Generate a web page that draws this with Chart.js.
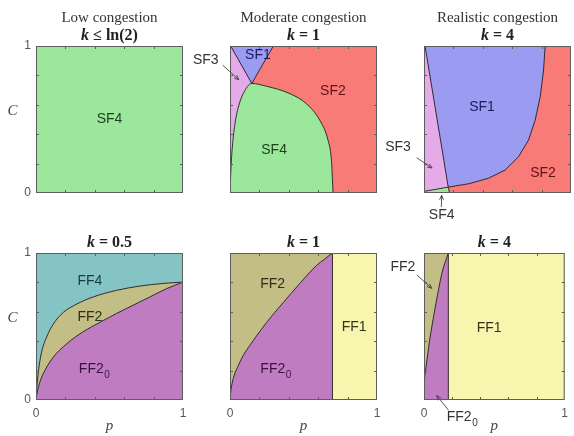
<!DOCTYPE html>
<html>
<head>
<meta charset="utf-8">
<script src="https://cdn.jsdelivr.net/npm/chart.js@4.4.1/dist/chart.umd.min.js"></script>
<style>
  html, body { margin: 0; padding: 0; background: #fff; }
  body { width: 574px; height: 436px; position: relative; overflow: hidden; }
  canvas { position: absolute; left: 0; top: 0; }
</style>
</head>
<body>
<canvas id="c1" width="574" height="436"></canvas>
<canvas id="c2" width="574" height="436"></canvas>
<canvas id="c3" width="574" height="436"></canvas>
<canvas id="c4" width="574" height="436"></canvas>
<canvas id="c5" width="574" height="436"></canvas>
<canvas id="c6" width="574" height="436"></canvas>
<script>
// axis ticks
const tickValues = [0, 1];
const minorTicks = [0.2, 0.4, 0.6, 0.8];

// moderate congestion, k = 1 (SF regions)
const modSF1P = [0.005, 0.148, 0.295];
const modSF1C = [1, 0.745, 1];
const modSF3P = [0, 0.005, 0.148];
const modSF3C = [1, 1, 0.745];
const modSF4P = [0, 0.003, 0.007, 0.018, 0.034, 0.057, 0.09, 0.148, 0.249, 0.407, 0.52, 0.611, 0.667, 0.69, 0.697, 0.701];
const modSF4C = [0, 0.08, 0.177, 0.336, 0.472, 0.585, 0.676, 0.745, 0.726, 0.676, 0.607, 0.494, 0.358, 0.222, 0.086, 0];

// realistic congestion, k = 4 (SF regions)
const realSF3P = [0, 0.007, 0.165];
const realSF3C = [1, 1, 0.04];
const realSF1P = [0.007, 0.165, 0.305, 0.44, 0.553, 0.643, 0.711, 0.756, 0.79, 0.813, 0.824];
const realSF1C = [1, 0.04, 0.063, 0.101, 0.157, 0.247, 0.36, 0.494, 0.652, 0.831, 1];
const realSF4P = [0, 0.165, 0.174];
const realSF4C = [0.011, 0.04, 0];

// k = 0.5 (FF regions)
const lowFF2P = [0, 0.005, 0.016, 0.038, 0.072, 0.118, 0.186, 0.276, 0.389, 0.548, 0.706, 0.864, 1];
const lowFF2C = [0, 0.079, 0.191, 0.326, 0.427, 0.517, 0.596, 0.652, 0.701, 0.746, 0.775, 0.793, 0.802];
const lowFF20P = [0, 0.009, 0.027, 0.061, 0.118, 0.208, 0.321, 0.434, 0.548, 0.661, 0.774, 0.887, 1];
const lowFF20C = [0, 0.056, 0.124, 0.202, 0.292, 0.382, 0.465, 0.528, 0.589, 0.645, 0.701, 0.757, 0.802];

// k = 1 (FF regions)
const modFF20P = [0, 0.005, 0.014, 0.029, 0.057, 0.09, 0.158, 0.249, 0.362, 0.475, 0.588, 0.645, 0.697];
const modFF20C = [0, 0.056, 0.112, 0.169, 0.236, 0.303, 0.404, 0.528, 0.663, 0.793, 0.915, 0.96, 1];
const modFF1P = [0.697, 0.697, 1];
const modFF1C = [0, 1, 1];

// k = 4 (FF regions)
const realFF20P = [0, 0.005, 0.016, 0.038, 0.065, 0.095, 0.128, 0.173];
const realFF20C = [0.09, 0.16, 0.236, 0.393, 0.551, 0.708, 0.865, 1];
const realFF1P = [0.173, 0.173, 1];
const realFF1C = [0, 1, 1];

const GREEN = '#9be79b', RED = '#f97b78', BLUE = '#9b9bf1', PINK = '#e5aae8';
const TEAL = '#85c4c4', OLIVE = '#c2be85', PURPLE = '#c07cc0', YELLOW = '#f7f5ae';
const EDGE = 'rgba(35,30,35,0.9)';
const FRAME = '#5e5e5e';

const W = 574, H = 436, SIZE = 147;

const pts = (ps, cs) => ps.map((p, i) => ({ x: p, y: cs[i] }));

function region(ps, cs, color, fill, order, extra) {
  return Object.assign({
    data: pts(ps, cs),
    backgroundColor: color,
    borderColor: EDGE,
    borderWidth: 1,
    fill: fill,
    order: order,
    pointRadius: 0,
    tension: 0,
  }, extra);
}
const curved = { cubicInterpolationMode: 'monotone' };
const noEdge = { borderWidth: 0 };

function axis(showLabels, vertical) {
  return {
    type: 'linear',
    min: 0,
    max: 1,
    grid: { display: false, drawTicks: false, tickLength: 0 },
    border: { display: false },
    afterBuildTicks: s => { s.ticks = tickValues.map(v => ({ value: v })); },
    afterFit: s => { if (vertical) s.width = 30; else s.height = 24; },
    ticks: {
      display: showLabels,
      autoSkip: false,
      maxRotation: 0,
      color: '#555',
      padding: vertical ? 5 : 6,
      font: { family: 'Liberation Sans', size: 12 },
    },
  };
}

const serif = 'Liberation Serif';

function drawText(ctx, x, y, text, font, color, sub) {
  ctx.font = font;
  const w = ctx.measureText(text).width;
  let sw = 0;
  const subFont = font.replace(/\d+px/, '10px');
  if (sub) { ctx.font = subFont; sw = ctx.measureText(sub).width; }
  ctx.fillStyle = color;
  ctx.textBaseline = 'middle';
  ctx.textAlign = 'left';
  const x0 = x - (w + sw) / 2;
  ctx.font = font;
  ctx.fillText(text, x0, y);
  if (sub) { ctx.font = subFont; ctx.fillText(sub, x0 + w + 0.5, y + 6); }
}

function drawArrow(ctx, x1, y1, x2, y2) {
  ctx.strokeStyle = '#444';
  ctx.lineWidth = 0.9;
  ctx.beginPath();
  ctx.moveTo(x1, y1);
  ctx.lineTo(x2, y2);
  ctx.stroke();
  const a = Math.atan2(y2 - y1, x2 - x1);
  const h = 5;
  ctx.beginPath();
  ctx.moveTo(x2, y2);
  ctx.lineTo(x2 - h * Math.cos(a - 0.4), y2 - h * Math.sin(a - 0.4));
  ctx.moveTo(x2, y2);
  ctx.lineTo(x2 - h * Math.cos(a + 0.4), y2 - h * Math.sin(a + 0.4));
  ctx.stroke();
}

const panelPlugin = {
  id: 'panel',
  beforeDraw(chart) {
    const { ctx, chartArea: a } = chart;
    ctx.save();
    ctx.fillStyle = chart.config.options.plugins.panel.bg;
    ctx.fillRect(a.left, a.top, a.right - a.left, a.bottom - a.top);
    ctx.restore();
  },
  afterDraw(chart) {
    const opts = chart.config.options.plugins.panel;
    const { ctx, chartArea: a } = chart;
    const xs = chart.scales.x, ys = chart.scales.y;
    ctx.save();
    // frame with inward ticks
    ctx.strokeStyle = FRAME;
    ctx.lineWidth = 1;
    ctx.strokeRect(a.left + 0.5, a.top + 0.5, a.right - a.left - 1, a.bottom - a.top - 1);
    ctx.beginPath();
    minorTicks.forEach(v => {
      const px = Math.round(xs.getPixelForValue(v)) + 0.5;
      const py = Math.round(ys.getPixelForValue(v)) + 0.5;
      ctx.moveTo(px, a.bottom); ctx.lineTo(px, a.bottom - 3);
      ctx.moveTo(px, a.top); ctx.lineTo(px, a.top + 3);
      ctx.moveTo(a.left, py); ctx.lineTo(a.left + 3, py);
      ctx.moveTo(a.right, py); ctx.lineTo(a.right - 3, py);
    });
    ctx.stroke();

    // titles
    const cx = (a.left + a.right) / 2;
    if (opts.head) drawText(ctx, cx, a.top - 28, opts.head, '15px "' + serif + '"', '#333');
    if (opts.math) {
      const parts = opts.math.map(([t, style]) => {
        ctx.font = style + ' 16px "' + serif + '"';
        return { t, font: ctx.font, w: ctx.measureText(t).width };
      });
      let x = cx - parts.reduce((s, p) => s + p.w, 0) / 2;
      ctx.fillStyle = '#222';
      ctx.textBaseline = 'middle';
      ctx.textAlign = 'left';
      parts.forEach(p => { ctx.font = p.font; ctx.fillText(p.t, x, a.top - 10); x += p.w; });
    }

    // axis names
    if (opts.yName) drawText(ctx, xs.getPixelForValue(-0.16), ys.getPixelForValue(0.56), 'C', 'italic 15px "' + serif + '"', '#444');
    if (opts.xName) drawText(ctx, xs.getPixelForValue(0.5), ys.getPixelForValue(-0.18), 'p', 'italic 15px "' + serif + '"', '#444');

    // region labels and arrows
    (opts.labels || []).forEach(l => {
      drawText(ctx, xs.getPixelForValue(l.p), ys.getPixelForValue(l.c), l.text, '14px "Liberation Sans"', l.color, l.sub);
    });
    (opts.arrows || []).forEach(r => {
      drawArrow(ctx, xs.getPixelForValue(r[0]), ys.getPixelForValue(r[1]), xs.getPixelForValue(r[2]), ys.getPixelForValue(r[3]));
    });
    ctx.restore();
  },
};

// left/top pixel of each panel's plotting box
function makePanel(id, left, top, cfg) {
  new Chart(document.getElementById(id), {
    type: 'line',
    data: { datasets: cfg.datasets },
    options: {
      responsive: false,
      animation: false,
      events: [],
      layout: { padding: { left: left - 30, right: W - left - SIZE, top: top, bottom: H - top - SIZE - 24 } },
      scales: { x: axis(cfg.xLabels, false), y: axis(cfg.yLabels, true) },
      plugins: {
        legend: { display: false },
        tooltip: { enabled: false },
        panel: cfg,
      },
    },
    plugins: [panelPlugin],
  });
}

const SF4T = '#1f3f1f', SF2T = '#5e1414', SF1T = '#1c1c5c', OUT = '#333';
const FF4T = '#173c3c', FF2T = '#2f2e16', FF20T = '#3a1240', FF1T = '#33331a';

makePanel('c1', 36, 46, {
  bg: GREEN, yLabels: true, xLabels: false, yName: true,
  head: 'Low congestion', math: [['k', 'italic bold'], [' \u2264 ln(2)', 'bold']],
  datasets: [],
  labels: [{ text: 'SF4', p: 0.5, c: 0.5, color: SF4T }],
});

makePanel('c2', 230, 46, {
  bg: RED, yLabels: false, xLabels: false,
  head: 'Moderate congestion', math: [['k', 'italic bold'], [' = 1', 'bold']],
  datasets: [
    region(modSF3P, modSF3C, PINK, 'origin', 3, noEdge),
    region(modSF4P, modSF4C, GREEN, 'origin', 2, curved),
    region(modSF1P, modSF1C, BLUE, 'end', 1),
  ],
  labels: [
    { text: 'SF1', p: 0.19, c: 0.94, color: SF1T },
    { text: 'SF2', p: 0.70, c: 0.69, color: SF2T },
    { text: 'SF4', p: 0.30, c: 0.29, color: SF4T },
    { text: 'SF3', p: -0.165, c: 0.905, color: OUT },
  ],
  arrows: [[-0.05, 0.87, 0.06, 0.77]],
});

makePanel('c3', 424, 46, {
  bg: RED, yLabels: false, xLabels: false,
  head: 'Realistic congestion', math: [['k', 'italic bold'], [' = 4', 'bold']],
  datasets: [
    region(realSF3P, realSF3C, PINK, 'origin', 3, noEdge),
    region(realSF1P, realSF1C, BLUE, 'end', 2),
    region(realSF4P, realSF4C, GREEN, 'origin', 1),
  ],
  labels: [
    { text: 'SF1', p: 0.395, c: 0.585, color: SF1T },
    { text: 'SF2', p: 0.81, c: 0.136, color: SF2T },
    { text: 'SF3', p: -0.177, c: 0.313, color: OUT },
    { text: 'SF4', p: 0.12, c: -0.15, color: OUT },
  ],
  arrows: [[-0.05, 0.24, 0.055, 0.17], [0.118, -0.095, 0.12, -0.015]],
});

makePanel('c4', 36, 253, {
  bg: TEAL, yLabels: true, xLabels: true, yName: true, xName: true,
  math: [['k', 'italic bold'], [' = 0.5', 'bold']],
  datasets: [
    region(lowFF2P, lowFF2C, OLIVE, 'origin', 2, curved),
    region(lowFF20P, lowFF20C, PURPLE, 'origin', 1, curved),
  ],
  labels: [
    { text: 'FF4', p: 0.367, c: 0.81, color: FF4T },
    { text: 'FF2', p: 0.367, c: 0.565, color: FF2T },
    { text: 'FF2', sub: '0', p: 0.395, c: 0.21, color: FF20T },
  ],
});

makePanel('c5', 230, 253, {
  bg: OLIVE, yLabels: false, xLabels: true, xName: true,
  math: [['k', 'italic bold'], [' = 1', 'bold']],
  datasets: [
    region(modFF20P, modFF20C, PURPLE, 'origin', 2, curved),
    region(modFF1P, modFF1C, YELLOW, 'origin', 1),
  ],
  labels: [
    { text: 'FF2', p: 0.29, c: 0.79, color: FF2T },
    { text: 'FF1', p: 0.845, c: 0.497, color: FF1T },
    { text: 'FF2', sub: '0', p: 0.31, c: 0.21, color: FF20T },
  ],
});

makePanel('c6', 424, 253, {
  bg: OLIVE, yLabels: false, xLabels: true, xName: true,
  math: [['k', 'italic bold'], [' = 4', 'bold']],
  datasets: [
    region(realFF20P, realFF20C, PURPLE, 'origin', 2, curved),
    region(realFF1P, realFF1C, YELLOW, 'origin', 1),
  ],
  labels: [
    { text: 'FF2', p: -0.15, c: 0.905, color: OUT },
    { text: 'FF1', p: 0.463, c: 0.49, color: FF1T },
    { text: 'FF2', sub: '0', p: 0.27, c: -0.12, color: OUT },
  ],
  arrows: [[-0.05, 0.85, 0.055, 0.76], [0.175, -0.07, 0.09, 0.03]],
});
</script>
</body>
</html>
